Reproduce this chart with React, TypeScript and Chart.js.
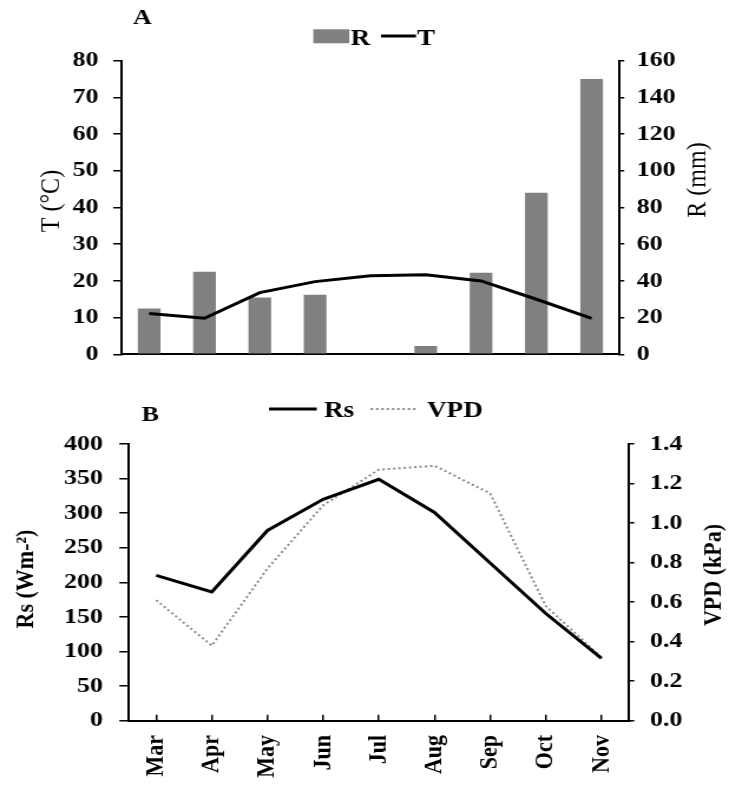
import React, { useEffect, useRef } from 'react';
import { Chart, registerables } from 'chart.js';

Chart.register(...registerables);

// ---------- data ----------
const months = ['Mar', 'Apr', 'May', 'Jun', 'Jul', 'Aug', 'Sep', 'Oct', 'Nov'];
const rainfall = [25, 45, 31, 32.5, 0, 4.5, 44.5, 88, 150]; // R (mm)
const temperature = [11.1, 9.8, 16.8, 19.8, 21.4, 21.7, 20.0, 15.0, 9.8]; // T (°C)
const solarRadiation = [210, 186, 275, 320, 349, 301, 228, 155, 90]; // Rs (Wm-2)
const vpd = [0.61, 0.38, 0.77, 1.09, 1.27, 1.29, 1.15, 0.58, 0.32]; // VPD (kPa)

const tRange = [0, 80, 10];
const rRange = [0, 160, 20];
const rsRange = [0, 400, 50];
const vpdRange = [0, 1.4, 0.2];

// ---------- layout helpers ----------
const CSS_W = 729;
const CANVAS_W = 618;
const SX = CSS_W / CANVAS_W; // horizontal stretch of the drawing
const cx = (absX: number) => absX / SX;
const FAMILY = '"Liberation Serif", "Times New Roman", serif';

const tickFont = { family: FAMILY, size: 22, weight: 'bold' as const };

function yAxis(position: 'left' | 'right', range: number[], width: number, tickLen: number, pad: number, fmt?: (v: number) => string) {
  return {
    type: 'linear' as const,
    position,
    min: range[0],
    max: range[1],
    ticks: {
      stepSize: range[2],
      color: '#000',
      font: tickFont,
      padding: pad,
      callback: (v: any) => (fmt ? fmt(Number(v)) : String(v)),
    },
    grid: { drawOnChartArea: false, drawTicks: true, tickLength: tickLen, color: '#000', lineWidth: 1.5 },
    border: { display: true, color: '#000', width: 2 },
    afterFit: (s: any) => {
      s.width = width;
    },
  };
}

type TextItem = { text: string; x: number; y: number; rot?: boolean; font: string };
type LegendItem = { kind: 'box' | 'line'; x1: number; x2: number; y: number; h?: number; color: string; width?: number; dash?: number[] };

function overlayPlugin(id: string, texts: TextItem[], legend: LegendItem[]) {
  return {
    id,
    afterDraw(chart: any) {
      const ctx = chart.ctx as CanvasRenderingContext2D;
      ctx.save();
      ctx.fillStyle = '#000';
      for (const t of texts) {
        ctx.font = t.font;
        if (t.rot) {
          ctx.save();
          ctx.translate(t.x, t.y);
          ctx.rotate(-Math.PI / 2);
          ctx.textAlign = 'center';
          ctx.textBaseline = 'middle';
          ctx.fillText(t.text, 0, 0);
          ctx.restore();
        } else {
          ctx.textAlign = 'left';
          ctx.textBaseline = 'alphabetic';
          ctx.fillText(t.text, t.x, t.y);
        }
      }
      for (const l of legend) {
        if (l.kind === 'box') {
          ctx.fillStyle = l.color;
          const h = l.h || 14;
          ctx.fillRect(l.x1, l.y - h / 2, l.x2 - l.x1, h);
        } else {
          ctx.strokeStyle = l.color;
          ctx.lineWidth = l.width || 3;
          ctx.setLineDash(l.dash || []);
          ctx.beginPath();
          ctx.moveTo(l.x1, l.y);
          ctx.lineTo(l.x2, l.y);
          ctx.stroke();
          ctx.setLineDash([]);
        }
      }
      ctx.restore();
    },
  };
}

const BAR_COLOR = '#808080';
const VPD_COLOR = '#8a8a8a';

export default function App() {
  const refA = useRef<HTMLCanvasElement>(null);
  const refB = useRef<HTMLCanvasElement>(null);

  useEffect(() => {
    const boldF = (s: number) => `bold ${s}px ${FAMILY}`;
    const normF = (s: number) => `${s}px ${FAMILY}`;

    const chartA = new Chart(refA.current!, {
      type: 'bar',
      data: {
        labels: months,
        datasets: [
          {
            type: 'line',
            label: 'T',
            data: temperature,
            yAxisID: 'yT',
            borderColor: '#000',
            borderWidth: 3,
            pointRadius: 0,
            tension: 0,
            order: 0,
          } as any,
          {
            type: 'bar',
            label: 'R',
            data: rainfall,
            yAxisID: 'yR',
            backgroundColor: BAR_COLOR,
            categoryPercentage: 1,
            barPercentage: 0.41,
            order: 1,
          },
        ],
      },
      options: {
        animation: false,
        responsive: false,
        devicePixelRatio: 1,
        layout: { padding: { top: 60.7, bottom: 20, left: 0, right: 0 } },
        plugins: { legend: { display: false }, tooltip: { enabled: false } },
        scales: {
          x: {
            offset: true,
            grid: { display: false },
            ticks: { display: false },
            border: { display: true, color: '#000', width: 2 },
            afterFit: (s: any) => {
              s.height = 0;
            },
          } as any,
          yT: yAxis('left', tRange, cx(121.5), 7, 12.5) as any,
          yR: yAxis('right', rRange, CANVAS_W - cx(619.3), 4.2, 10.5) as any,
        },
      },
      plugins: [
        overlayPlugin(
          'overlayA',
          [
            { text: 'A', x: cx(133), y: 24, font: boldF(22) },
            { text: 'R', x: cx(350.5), y: 45, font: boldF(23) },
            { text: 'T', x: cx(417), y: 45, font: boldF(23) },
            { text: 'T (°C)', x: cx(52), y: 201, rot: true, font: normF(24) },
            { text: 'R (mm)', x: cx(698), y: 180, rot: true, font: normF(24) },
          ],
          [
            { kind: 'box', x1: cx(313.3), x2: cx(349.3), y: 36.3, h: 14, color: BAR_COLOR },
            { kind: 'line', x1: cx(381), x2: cx(416), y: 36, color: '#000', width: 3 },
          ]
        ),
      ],
    });

    const chartB = new Chart(refB.current!, {
      type: 'line',
      data: {
        labels: months,
        datasets: [
          {
            label: 'Rs',
            data: solarRadiation,
            yAxisID: 'yRs',
            borderColor: '#000',
            borderWidth: 3,
            pointRadius: 0,
            tension: 0,
          },
          {
            label: 'VPD',
            data: vpd,
            yAxisID: 'yV',
            borderColor: VPD_COLOR,
            borderWidth: 2,
            borderDash: [2, 2.5],
            pointRadius: 0,
            tension: 0,
          },
        ],
      },
      options: {
        animation: false,
        responsive: false,
        devicePixelRatio: 1,
        layout: { padding: { top: 64, bottom: 0, left: 0, right: 0 } },
        plugins: { legend: { display: false }, tooltip: { enabled: false } },
        scales: {
          x: {
            offset: true,
            grid: { display: true, offset: false, drawOnChartArea: false, drawTicks: true, tickLength: -6, color: '#000', lineWidth: 1.5 },
            ticks: { autoSkip: false, minRotation: 90, maxRotation: 90, padding: 20.3, color: '#000', font: tickFont },
            border: { display: true, color: '#000', width: 2 },
            afterFit: (s: any) => {
              s.height = 64.3;
            },
          } as any,
          yRs: yAxis('left', rsRange, cx(128.3), 7.6, 14) as any,
          yV: yAxis('right', vpdRange, CANVAS_W - cx(629.3), 4.2, 13.3, (v) => v.toFixed(1)) as any,
        },
      },
      plugins: [
        overlayPlugin(
          'overlayB',
          [
            { text: 'B', x: cx(141.7), y: 40.7, font: boldF(22) },
            { text: 'Rs', x: cx(324), y: 37.3, font: boldF(23) },
            { text: 'VPD', x: cx(427), y: 37.3, font: boldF(23) },
            { text: 'Rs (Wm-²)', x: cx(26), y: 199, rot: true, font: boldF(22) },
            { text: 'VPD (kPa)', x: cx(714), y: 195, rot: true, font: boldF(22) },
          ],
          [
            { kind: 'line', x1: cx(269), x2: cx(316.7), y: 29, color: '#000', width: 3 },
            { kind: 'line', x1: cx(370.7), x2: cx(418), y: 29, color: VPD_COLOR, width: 2, dash: [2, 2.5] },
          ]
        ),
      ],
    });

    return () => {
      chartA.destroy();
      chartB.destroy();
    };
  }, []);

  return (
    <div style={{ position: 'absolute', left: 0, top: 0, width: CSS_W, height: 785, background: '#fff' }}>
      <canvas
        ref={refA}
        width={CANVAS_W}
        height={380}
        style={{ position: 'absolute', left: 0, top: 0, width: CSS_W + 'px', height: '380px' }}
      />
      <canvas
        ref={refB}
        width={CANVAS_W}
        height={405}
        style={{ position: 'absolute', left: 0, top: '380px', width: CSS_W + 'px', height: '405px' }}
      />
    </div>
  );
}
